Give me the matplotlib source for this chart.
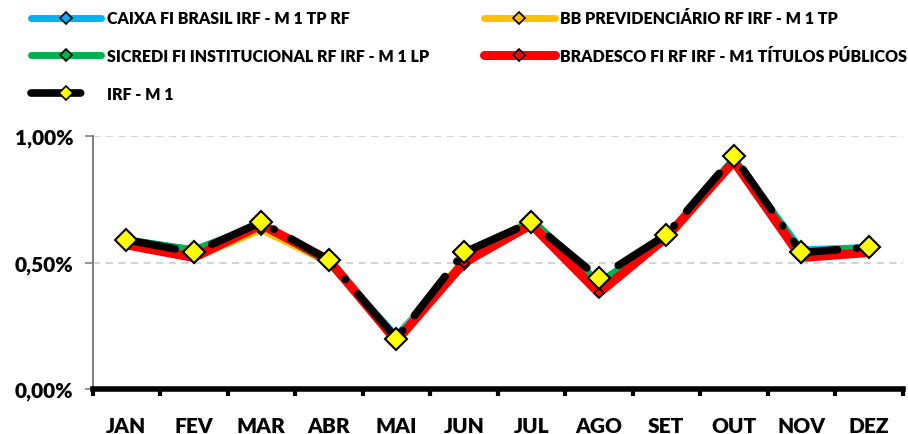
import matplotlib.pyplot as plt
from matplotlib.lines import Line2D
from matplotlib.ticker import FixedLocator, FuncFormatter

plt.rcParams['font.family'] = ['Lato', 'DejaVu Sans']

meses = ['JAN', 'FEV', 'MAR', 'ABR', 'MAI', 'JUN', 'JUL', 'AGO', 'SET', 'OUT', 'NOV', 'DEZ']

caixa = [0.59, 0.55, 0.65, 0.50, 0.21, 0.50, 0.67, 0.42, 0.60, 0.91, 0.55, 0.56]
bb = [0.58, 0.52, 0.63, 0.50, 0.20, 0.51, 0.67, 0.41, 0.59, 0.90, 0.53, 0.54]
sicredi = [0.59, 0.55, 0.65, 0.50, 0.20, 0.49, 0.67, 0.42, 0.60, 0.91, 0.54, 0.56]
bradesco = [0.57, 0.52, 0.65, 0.51, 0.19, 0.50, 0.65, 0.38, 0.60, 0.90, 0.52, 0.54]
irf_m1 = [0.59, 0.54, 0.66, 0.51, 0.20, 0.54, 0.66, 0.44, 0.61, 0.92, 0.54, 0.56]

nomes = ['CAIXA FI BRASIL IRF - M 1 TP RF',
         'BB PREVIDENCIÁRIO RF IRF - M 1 TP',
         'SICREDI FI INSTITUCIONAL RF IRF - M 1 LP',
         'BRADESCO FI RF IRF - M1 TÍTULOS PÚBLICOS',
         'IRF - M 1']

PESO = 'heavy'

fig = plt.figure(figsize=(9.08, 4.35), dpi=100)
ax = fig.add_axes([0.102, 0.103, 0.892, 0.582])

x = list(range(len(meses)))

# fundos
l_caixa, = ax.plot(x, caixa, color='#00B0F0', lw=5, marker='D', ms=5,
                   mfc='#00B0F0', mec='black', mew=1.2, solid_capstyle='round')
l_bb, = ax.plot(x, bb, color='#FFC000', lw=5, marker='D', ms=5,
                mfc='#FFC000', mec='black', mew=1.2, solid_capstyle='round')
l_sicredi, = ax.plot(x, sicredi, color='#00B050', lw=5, marker='D', ms=5,
                     mfc='#00B050', mec='black', mew=1.2, solid_capstyle='round')
l_brad, = ax.plot(x, bradesco, color='#FF0000', lw=6.5, marker='D', ms=5,
                  mfc='#FF0000', mec='black', mew=1.2, solid_capstyle='round')

# indice
ax.plot(x, irf_m1, color='black', lw=5.5,
        linestyle=(0, (6.5, 2.5, 0.05, 2.5)), dash_capstyle='round',
        marker='D', ms=11, mfc='#FFFF00', mec='black', mew=1.5)

ax.set_xlim(-0.5, 11.5)
ax.set_ylim(0, 1.0)

ax.set_xticks(x)
ax.set_xticklabels(meses, fontsize=15, fontweight=PESO)
ax.tick_params(axis='x', which='major', length=0, pad=19)
ax.xaxis.set_minor_locator(FixedLocator([i + 0.5 for i in range(-1, 12)]))
ax.tick_params(axis='x', which='minor', length=5, width=3, color='black')

ax.set_yticks([0, 0.5, 1.0])
ax.yaxis.set_major_formatter(FuncFormatter(lambda v, p: f'{v:.2f}%'.replace('.', ',')))
ax.tick_params(axis='y', length=6, width=1.2, color='#808080', labelsize=15, pad=8)
for lbl in ax.get_yticklabels():
    lbl.set_fontweight(PESO)

ax.grid(axis='y', color='#D0D0D0', linestyle=(0, (4, 3)), lw=1.3)
ax.set_axisbelow(True)

for s in ['top', 'right']:
    ax.spines[s].set_visible(False)
ax.spines['left'].set_color('#808080')
ax.spines['left'].set_linewidth(1.5)
ax.spines['bottom'].set_color('black')
ax.spines['bottom'].set_linewidth(4)
ax.spines['bottom'].set_zorder(5)

# na legenda o indice mostra so um traco
h_irf = Line2D([], [], color='black', lw=5.5, linestyle=(0, (6.5, 20)),
               dash_capstyle='round', marker='D', ms=7, mfc='#FFFF00',
               mec='black', mew=1.2)

# legenda em duas colunas posicionadas a mao
leg1 = fig.legend([l_caixa, l_sicredi, h_irf], [nomes[0], nomes[2], nomes[4]],
                  loc='upper left', bbox_to_anchor=(0.022, 1.0), frameon=False,
                  handlelength=4.4, handletextpad=0.35, labelspacing=1.36,
                  borderaxespad=0.3, prop={'weight': PESO, 'size': 11.5})
leg2 = fig.legend([l_bb, l_brad], [nomes[1], nomes[3]],
                  loc='upper left', bbox_to_anchor=(0.521, 1.0), frameon=False,
                  handlelength=4.4, handletextpad=0.35, labelspacing=1.36,
                  borderaxespad=0.3, prop={'weight': PESO, 'size': 11.5})
for leg in (leg1, leg2):
    for h in leg.legend_handles[:2]:
        h.set_markersize(6)

fig.savefig('out.png', dpi=100)
